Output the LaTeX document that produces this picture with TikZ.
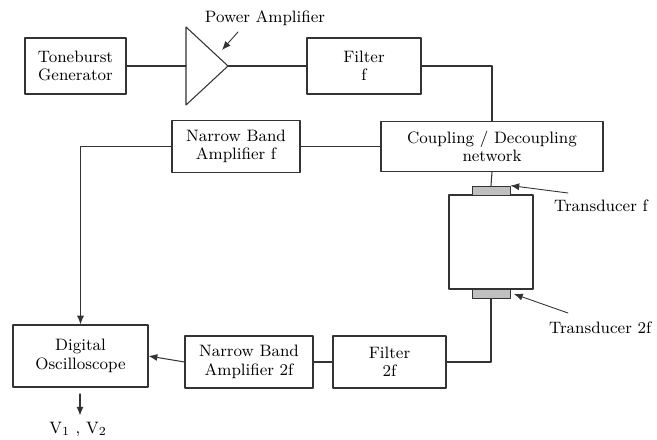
\documentclass[tikz,border=0pt]{standalone}
\usetikzlibrary{arrows.meta}

\begin{document}
\begin{tikzpicture}[
  x=0.02cm, y=-0.02cm,
  line cap=round, line join=round,
  every node/.style={font=\fontsize{9.4}{10.4}\selectfont},
  blk/.style={draw=black!80, line width=0.6pt, align=center, inner sep=1pt},
  wire/.style={draw=black!80, line width=0.6pt},
  sig/.style={wire, -{Latex[length=5pt, width=4pt]}},
  xdcr/.style={draw=black!80, line width=0.5pt, fill=black!25, minimum width=0.76cm, minimum height=0.18cm, inner sep=0pt}
]
  \useasboundingbox (0,0) rectangle (657,440);
  % transmit chain
  \node[blk, minimum width=2.02cm, minimum height=1.12cm] (tone) at (75.5,66) {Toneburst\\Generator};
  \draw[wire] (186,27) -- (186,105) -- (228,66) coordinate (ampout) -- cycle;
  \coordinate (ampin) at (186,66);
  \node[blk, minimum width=2.28cm, minimum height=1.12cm] (filtf) at (364,66) {Filter\\f};
  \node (amplab) at (265,18) {Power Amplifier};
  \coordinate (amptail) at (238,32);
  \coordinate (amphead) at (222,50);
  % coupling and receive chain
  \node[blk, minimum width=4.44cm, minimum height=1.0cm] (couple) at (492,146.5) {Coupling / Decoupling\\network};
  \node[blk, minimum width=2.56cm, minimum height=1.04cm] (nbaf) at (236,146.5) {Narrow Band\\Amplifier f};
  \node[blk, minimum width=2.7cm, minimum height=1.24cm] (osc) at (80.5,356) {Digital\\Oscilloscope};
  \node[blk, minimum width=2.56cm, minimum height=1.04cm] (nbatwo) at (249,362) {Narrow Band\\Amplifier 2f};
  \node[blk, minimum width=2.26cm, minimum height=1.04cm] (filttwo) at (389.5,362) {Filter\\2f};
  % specimen with transducers
  \node[blk, minimum width=1.68cm, minimum height=1.88cm] (spec) at (491,242) {};
  \node[xdcr] (xf) at (491,190.5) {};
  \node[xdcr] (xtwo) at (491,294) {};
  \node[anchor=west] (xflab) at (548,206) {Transducer f};
  \node[anchor=west] (xtwolab) at (543,328) {Transducer 2f};
  \coordinate (xftail) at (568,193);
  \coordinate (xtwotail) at (568,313);
  % output
  \coordinate (vtail) at (80,394);
  \node (vout) at (78,429) {V$_1$ , V$_2$};
  % connections
  \draw[wire] (tone.east) -- (ampin);
  \draw[wire] (ampout) -- (filtf.west);
  \draw[wire] (filtf.east) -| (couple.north);
  \draw[wire] (couple.west) -- (nbaf.east);
  \draw[sig] (nbaf.west) -| (osc.north);
  \draw[wire] (couple.south) -- (xf.north);
  \draw[wire] (xtwo.south) |- (filttwo.east);
  \draw[wire] (filttwo.west) -- (nbatwo.east);
  \draw[sig] (nbatwo.west) -- (osc.east);
  \draw[sig] (vtail) -- (vtail |- vout.north);
  % pointers
  \draw[sig, line width=0.5pt] (amptail) -- (amphead);
  \draw[sig, line width=0.5pt] (xftail) -- (xf.north east);
  \draw[sig, line width=0.5pt] (xtwotail) -- ([xshift=2pt]xtwo.east);
\end{tikzpicture}
\end{document}
